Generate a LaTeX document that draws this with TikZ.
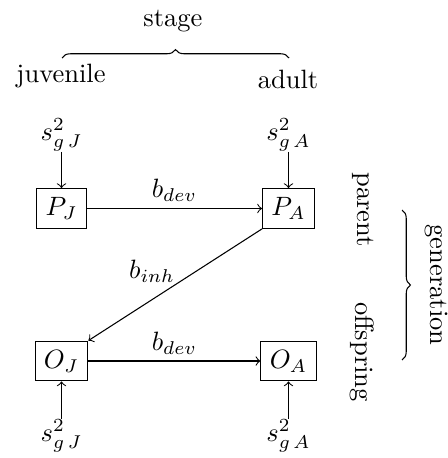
\documentclass[tikz,border=0pt]{standalone}
\usetikzlibrary{decorations.pathreplacing}
\begin{document}
\begin{tikzpicture}[x=0.3774pt,y=-0.3774pt,
  var/.style={draw,inner sep=0.3333em},
  lbl/.style={inner sep=0pt},
  link/.style={->},
  bracepath/.style={decorate,decoration={brace,amplitude=3.2pt}}]
\useasboundingbox (0,0) rectangle (448,458);

% stage heading and its brace
\node[lbl] (stage) at (173,21) {stage};
\draw[bracepath] (62,58) -- (289,58);
\node[lbl] (juv) at (61,76.5) {juvenile};
\node[lbl] (adu) at (288,79) {adult};

% parent generation
\node[var] (PJ) at (61.5,208.5) {$P_J$};
\node[var] (PA) at (288.5,208.5) {$P_A$};
\node[lbl] (sPJ) at (61.5,135) {$s^2_{g\,J}$};
\node[lbl] (sPA) at (288.5,135) {$s^2_{g\,A}$};
\draw[link] (sPJ) -- (PJ);
\draw[link] (sPA) -- (PA);
\draw[link] (PJ) -- node[above,yshift=-1pt] {$b_{dev}$} (PA);

% offspring generation
\node[var] (OJ) at (61.5,361) {$O_J$};
\node[var] (OA) at (288.5,361) {$O_A$};
\node[lbl] (sOJ) at (61.5,436) {$s^2_{g\,J}$};
\node[lbl] (sOA) at (288.5,436) {$s^2_{g\,A}$};
\draw[link] (sOJ) -- (OJ);
\draw[link] (sOA) -- (OA);
\draw[link] (OJ) -- node[above,yshift=-1pt] {$b_{dev}$} (OA);

% inheritance
\draw[link] (PA.south west) -- (OJ.north east);
\node[lbl] (binh) at (152,271) {$b_{inh}$};

% generation heading and its brace
\node[lbl,rotate=-90] (par) at (363,209.5) {parent};
\node[lbl,rotate=-90] (off) at (362,352) {offspring};
\draw[bracepath] (402,210) -- (402,360);
\node[lbl,rotate=-90] (gen) at (436,285) {generation};
\end{tikzpicture}
\end{document}
